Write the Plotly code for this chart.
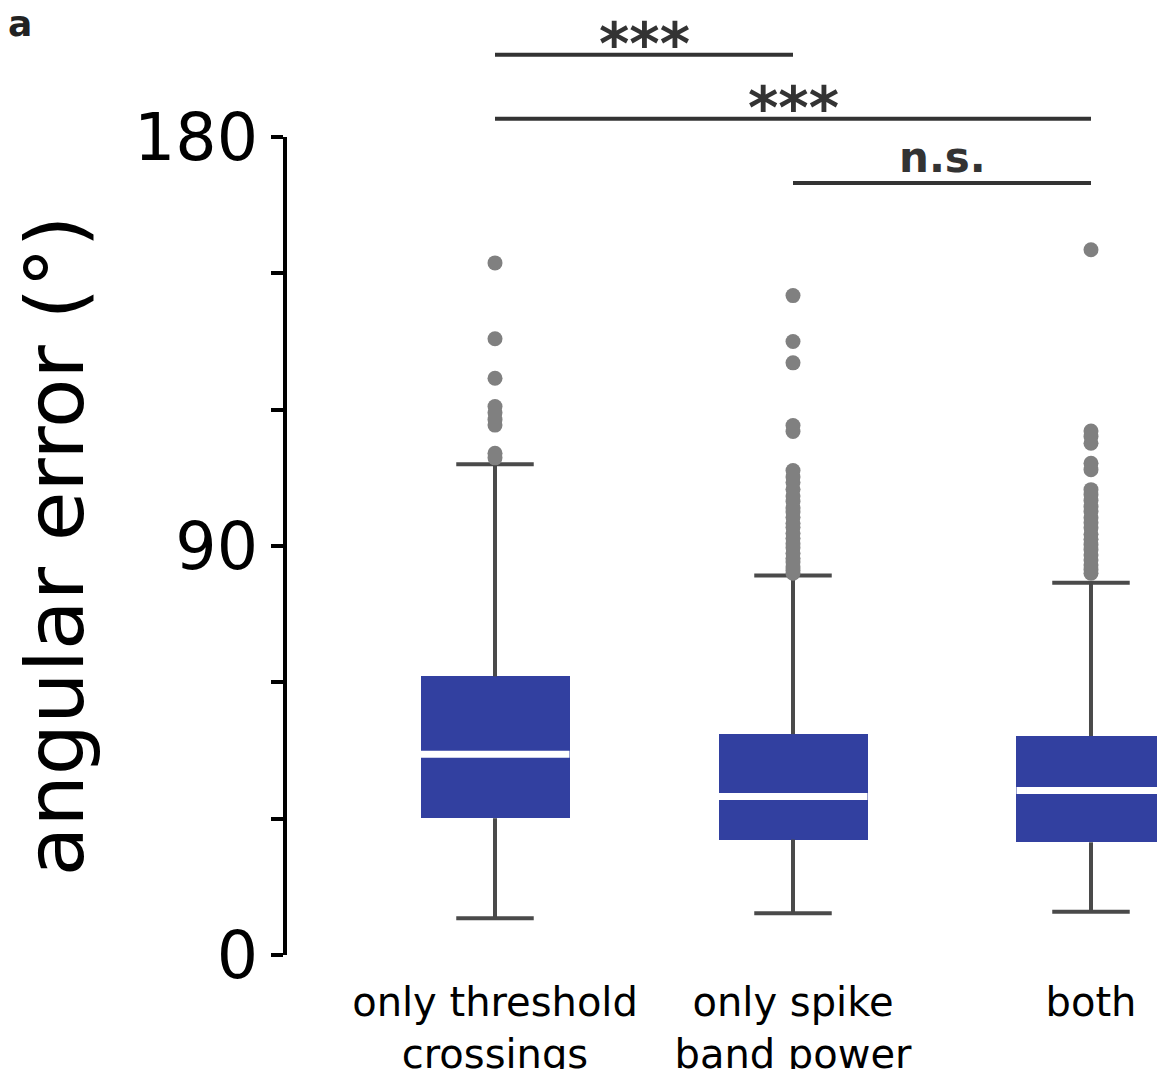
import plotly.graph_objects as go

# ---------------- data ----------------
categories = ["only threshold<br>crossings", "only spike<br>band power", "both"]
q1 = [30.1, 25.4, 24.8]
median = [44.2, 34.9, 36.2]
q3 = [61.3, 48.6, 48.2]
lower_whisker = [8.1, 9.2, 9.5]
upper_whisker = [108.0, 83.5, 81.9]

outliers_tc = [152.3, 135.6, 126.9, 120.7, 119.3, 117.8, 116.6, 110.4, 109.4]
outliers_sbp = [145.1, 135.0, 130.3, 116.5, 115.2, 106.6, 105.2, 104.0, 102.5,
                101.0, 99.8, 98.4, 97.5, 96.3, 95.0, 94.1, 92.8, 91.7, 90.5,
                89.6, 88.4, 87.3, 86.5, 85.4, 84.6, 84.0]
outliers_both = [155.2, 115.3, 114.1, 112.6, 108.2, 106.8, 102.4, 101.3, 100.0,
                 98.7, 97.6, 96.2, 95.1, 94.0, 92.6, 91.5, 90.3, 89.2, 88.0,
                 86.9, 85.8, 84.8, 84.0]
outliers = [outliers_tc, outliers_sbp, outliers_both]

y_tickvals = [0, 30, 60, 90, 120, 150, 180]
y_ticktext = ["0", "", "", "90", "", "", "180"]

# significance brackets: (group a, group b, level in data units, label)
sig_pairs = [(0, 1), (0, 2), (1, 2)]
sig_levels = [198.1, 184.0, 169.9]
sig_labels = ["***", "***", "n.s."]

# ---------------- styles ----------------
BOX_COLOR = "#3240a0"
WHISK_COLOR = "#4a4a4a"
FLIER_COLOR = "#808080"
SIG_COLOR = "#333333"
FONT = "DejaVu Sans"
BOX_W = 0.5
CAP_W = 0.26
Y_MAX = 180

W, H = 1157, 1069
ML, MR, MT, MB = 287, 0, 137, 114
X_RANGE = [-0.698, 2.2215]

xs = list(range(len(categories)))

fig = go.Figure()

# boxes (IQR)
fig.add_trace(go.Bar(
    x=xs, y=[b - a for a, b in zip(q1, q3)], base=q1, width=BOX_W,
    marker=dict(color=BOX_COLOR, line=dict(width=0)),
    hoverinfo="skip", showlegend=False))

# whiskers + caps
wx, wy = [], []
for i in xs:
    wx += [i, i, None, i, i, None]
    wy += [lower_whisker[i], q1[i], None, q3[i], upper_whisker[i], None]
    wx += [i - CAP_W / 2, i + CAP_W / 2, None, i - CAP_W / 2, i + CAP_W / 2, None]
    wy += [lower_whisker[i], lower_whisker[i], None, upper_whisker[i], upper_whisker[i], None]
fig.add_trace(go.Scatter(x=wx, y=wy, mode="lines",
                         line=dict(color=WHISK_COLOR, width=4),
                         hoverinfo="skip", showlegend=False, connectgaps=False))

# medians
mx, my = [], []
for i in xs:
    mx += [i - BOX_W / 2, i + BOX_W / 2, None]
    my += [median[i], median[i], None]
fig.add_trace(go.Scatter(x=mx, y=my, mode="lines",
                         line=dict(color="white", width=7),
                         hoverinfo="skip", showlegend=False))

# outliers
ox, oy = [], []
for i in xs:
    ox += [i] * len(outliers[i])
    oy += outliers[i]
fig.add_trace(go.Scatter(x=ox, y=oy, mode="markers",
                         marker=dict(color=FLIER_COLOR, size=15, line=dict(width=0)),
                         hoverinfo="skip", showlegend=False))

# significance brackets
for (a, b), lvl, lab in zip(sig_pairs, sig_levels, sig_labels):
    fig.add_shape(type="line", xref="x", yref="paper",
                  x0=a, x1=b, y0=lvl / Y_MAX, y1=lvl / Y_MAX,
                  line=dict(color=SIG_COLOR, width=4))
    is_star = lab.startswith("*")
    fig.add_annotation(x=(a + b) / 2, xref="x", y=lvl / Y_MAX, yref="paper",
                       text=f"<b>{lab}</b>", showarrow=False,
                       yanchor="bottom", xanchor="center",
                       yshift=-25 if is_star else -1,
                       font=dict(family=FONT, size=58 if is_star else 42, color=SIG_COLOR))

fig.update_layout(
    width=W, height=H,
    margin=dict(l=ML, r=MR, t=MT, b=MB, autoexpand=False),
    paper_bgcolor="white", plot_bgcolor="white",
    bargap=0,
    title=dict(text="<b>a</b>", xref="container", yref="container",
               x=0.007, y=0.99, xanchor="left", yanchor="top",
               font=dict(family=FONT, size=36, color="#222222")),
    font=dict(family=FONT, color="black"),
    showlegend=False,
)

fig.update_xaxes(
    range=X_RANGE, tickvals=xs, ticktext=categories,
    showline=False, showgrid=False, zeroline=False, ticks="",
    tickfont=dict(family=FONT, size=40, color="black"),
    ticklabelstandoff=20,
)

fig.update_yaxes(
    range=[0, Y_MAX], tickvals=y_tickvals, ticktext=y_ticktext,
    showline=True, linewidth=4, linecolor="black",
    ticks="outside", ticklen=12, tickwidth=4, tickcolor="black",
    showgrid=False, zeroline=False,
    tickfont=dict(family=FONT, size=65, color="black"),
    ticklabelstandoff=0,
    title=dict(text="angular error (°)", standoff=25,
               font=dict(family=FONT, size=81, color="black")),
    automargin=False,
)

fig.write_html(
    "out.html",
    config={"displayModeBar": False},
    post_script="document.body.style.margin='0';document.body.style.padding='0';"
                "document.documentElement.style.overflow='hidden';",
)
